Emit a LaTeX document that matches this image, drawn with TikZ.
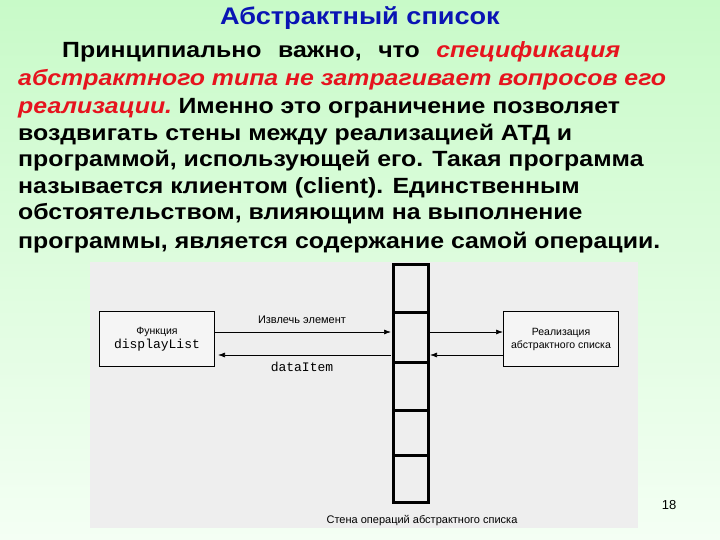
\documentclass[tikz,border=0pt]{standalone}
\usepackage{fontspec}
\setmainfont{Liberation Sans}[FakeStretch=1.13]
\newfontfamily\diagfont{Liberation Sans}
\setmonofont{Liberation Mono}
\usetikzlibrary{arrows.meta}
\definecolor{bgtop}{HTML}{C8FAC8}
\definecolor{bgbot}{HTML}{F4FFF4}
\definecolor{ttl}{HTML}{0A14B4}
\definecolor{red1}{HTML}{E6141E}
\tikzset{
 line/.style={anchor=base west,font=\bfseries\fontsize{22}{26}\selectfont,inner sep=0pt},
 redtxt/.style={line,text=red1,font=\bfseries\itshape\fontsize{22}{26}\selectfont},
 box/.style={draw,line width=1pt,fill=gray!8,minimum width=115pt,minimum height=55pt,align=center,font=\diagfont\fontsize{10.5}{13}\selectfont},
 arr/.style={-{Latex[length=7pt,width=5pt]},line width=0.7pt},
 small/.style={font=\diagfont\fontsize{11}{13}\selectfont,inner sep=1pt}
}
\begin{document}
\begin{tikzpicture}[x=1pt,y=-1pt]
\shade[top color=bgtop,bottom color=bgbot] (0,0) rectangle (720,540);
\useasboundingbox (0,0) rectangle (720,540);
\node[text=ttl,font=\bfseries\fontsize{24}{28}\selectfont] (title) at (360,18) {Абстрактный список};
\node[line] (l1) at (62,58) {\makebox[558pt][s]{Принципиально\hfill важно,\hfill что\hfill \textcolor{red1}{\itshape спецификация}}};
\node[redtxt] (l2) at (18,86) {абстрактного типа не затрагивает вопросов его};
\node[redtxt] (l3a) at (18,114) {реализации.};
\node[line] (l3b) at (l3a.base east) [xshift=6pt] {Именно это ограничение позволяет};
\node[line] (l4) at (18,141) {воздвигать стены между реализацией АТД и};
\node[line] (l5) at (18,167) {программой, использующей его. Такая программа};
\node[line] (l6) at (18,194) {называется клиентом (client). Единственным};
\node[line] (l7) at (18,220) {обстоятельством, влияющим на выполнение};
\node[line] (l8) at (18,248) {программы, является содержание самой операции.};
% picture area
\fill[gray!13] (90,262) rectangle (638,528);
\draw[line width=3pt] (393,264) rectangle (428,502);
\foreach \y in {312,362,410,455} \draw[line width=3pt] (393,\y) -- (428,\y);
\node[box] (left) at (157,339) {Функция\\[1pt]{\ttfamily\fontsize{13}{15}\selectfont displayList}};
\node[box] (right) at (561,339) {Реализация\\абстрактного списка};
\coordinate (wl1) at (391,332); \coordinate (wl2) at (391,355);
\coordinate (wr1) at (430,332); \coordinate (wr2) at (430,355);
\draw[arr] (left.east |- wl1) -- (wl1);
\draw[arr] (wl2) -- ([xshift=3pt]left.east |- wl2);
\draw[arr] (wr1) -- (right.west |- wr1);
\draw[arr] (right.west |- wr2) -- (wr2);
\node[small] (lab1) at (302,320) {Извлечь элемент};
\node[small,font=\ttfamily\fontsize{13}{15}\selectfont] (lab2) at (302,367) {dataItem};
\node[small] (cap) at (422,521) {Стена операций абстрактного списка};
\node[font=\diagfont\fontsize{13}{15}\selectfont] (pg) at (669,505) {18};
\end{tikzpicture}
\end{document}
